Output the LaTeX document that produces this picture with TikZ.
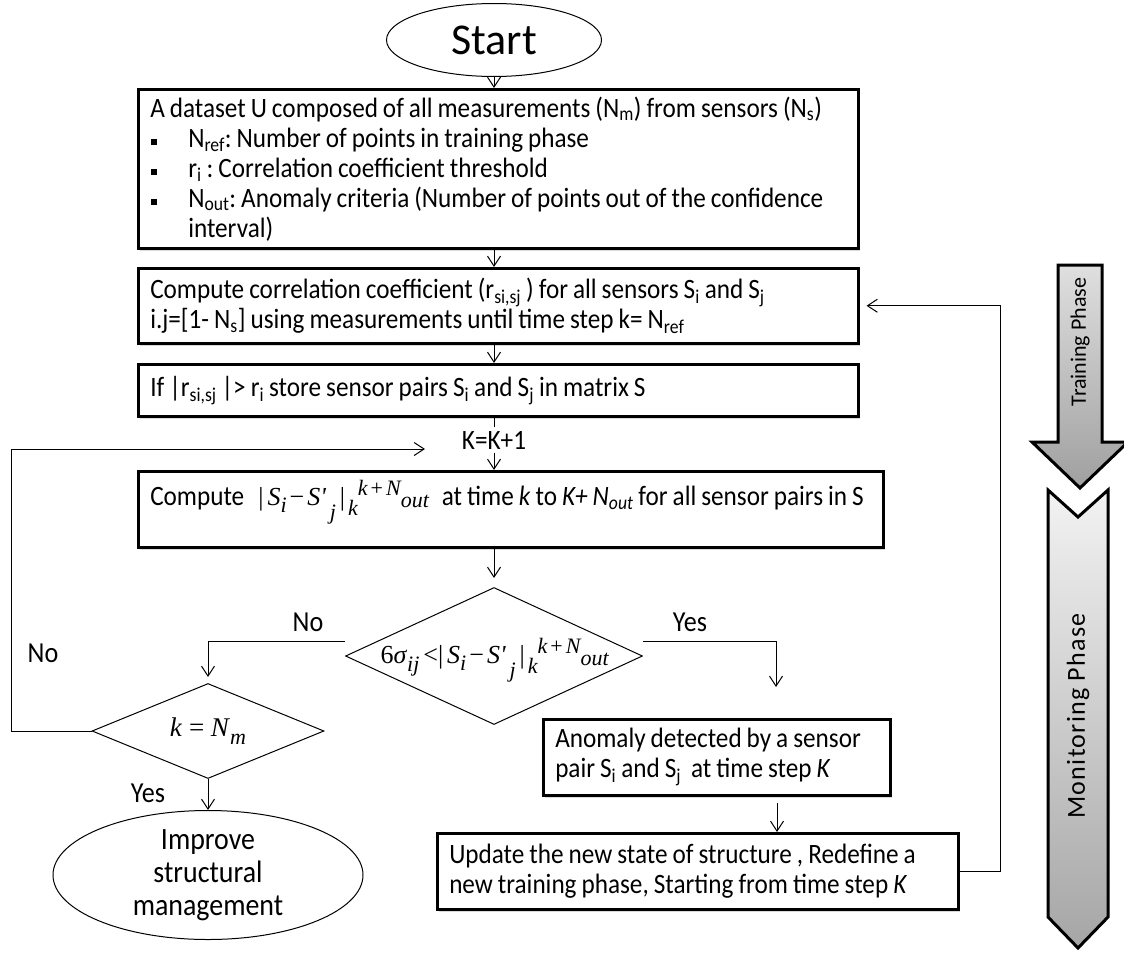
\documentclass[tikz,border=0pt]{standalone}
\usepackage{fontspec}
\setmainfont{Carlito}[FakeStretch=0.9]
\newfontfamily\plain{Carlito}
\newfontfamily\tms{Liberation Serif}
\usetikzlibrary{arrows.meta,shapes.geometric,shadows}

\newcommand{\bul}{\makebox[38pt][l]{\hspace*{1pt}\rule[2pt]{6pt}{6pt}}}
\newcommand{\lift}[2]{\raisebox{#1}{\fontsize{22}{22}\selectfont #2}}
\newcommand{\absdiff}{{\tms\itshape\fontsize{26}{26}\selectfont\upshape|\hspace{4pt}\itshape S\lift{-7pt}{i}\hspace{3pt}\upshape−\hspace{3pt}\itshape S'\hspace{4pt}\lift{-14pt}{j}\hspace{4pt}\upshape|\hspace{3pt}\itshape\lift{-10pt}{k}\lift{10pt}{k\hspace{3pt}\upshape+\hspace{3pt}\itshape N\lift{-12pt}{out}}}}

\begin{document}
\begin{tikzpicture}[x=1pt, y=-1pt, line width=1pt, >={Straight Barb[length=10pt,width=13pt]},
	every node/.style={font=\fontsize{28}{30}\selectfont},
	box/.style={draw, line width=2.5pt, fill=white, drop shadow={shadow xshift=2pt, shadow yshift=-3pt, opacity=0.3}, anchor=north west, inner xsep=12pt, align=left, execute at begin node={\spaceskip=5pt plus 1pt\xspaceskip=5pt plus 1pt\relax}},
	cond/.style={draw, diamond, inner sep=0pt},
	term/.style={draw, ellipse, inner sep=0pt, align=center},
	lbl/.style={font=\fontsize{29}{30}\selectfont},
	phase/.style={draw, line width=3pt, top color=gray!25, bottom color=gray!75}]
	\useasboundingbox (0,0) rectangle (1124,953);

	% main column
	\node[term, minimum width=215pt, minimum height=73pt, font=\plain\fontsize{44}{44}\selectfont] (start) at (494,40) {Start};
	\node[box, minimum width=720pt, minimum height=159pt, text width=696pt] (data) at (137,88) {A dataset U composed of all measurements (N\textsubscript{m}) from sensors (N\textsubscript{s})\\
		\bul N\textsubscript{ref}: Number of points in training phase\\
		\bul r\textsubscript{i} : Correlation coefficient threshold\\
		\bul N\textsubscript{out}: Anomaly criteria (Number of points out of the confidence\\
		\hspace*{38pt}interval)};
	\node[box, minimum width=720pt, minimum height=75pt, text width=696pt] (corr) at (137,267) {Compute correlation coefficient (r\textsubscript{si,sj} ) for all sensors S\textsubscript{i} and S\textsubscript{j}\\
		i.j=[1- N\textsubscript{s}] using measurements until time step k= N\textsubscript{ref}};
	\node[box, minimum width=720pt, minimum height=52pt, text width=696pt] (filt) at (137,363) {If |r\textsubscript{si,sj} |> r\textsubscript{i} store sensor pairs S\textsubscript{i} and S\textsubscript{j} in matrix S};
	\node (kinc) at (494,440) {K=K+1};
	\node[box, minimum width=745pt, text width=721pt, text height=24pt, text depth=32pt, inner ysep=10pt] (comp) at (137,470) {Compute\hspace{14pt}\absdiff\hspace{13pt}at time \textit{k} to \textit{K+ N\textsubscript{out}} for all sensor pairs in S};

	% decisions
	\node[cond, minimum width=297pt, minimum height=137pt] (test) at (494,656) {};
	\node[anchor=base west, inner sep=0pt] (testtxt) at (380,663) {{\tms\fontsize{26}{26}\selectfont 6\textit{σ}\lift{-8pt}{\textit{ij}}\hspace{4pt}<}\absdiff};
	\node[cond, minimum width=232pt, minimum height=95pt] (last) at (208,731) {};
	\node (lasttxt) at (208,731) {{\tms\fontsize{27}{27}\selectfont\textit{k} = \textit{N}\lift{-8pt}{\textit{m}}}};
	\node[term, minimum width=310pt, minimum height=105pt, font=\fontsize{31}{33}\selectfont] (impr) at (208,875) {Improve\\structural\\management};

	\node[box, minimum width=347pt, minimum height=76pt, text width=323pt] (anom) at (542,718) {Anomaly detected by a sensor\\
		pair S\textsubscript{i} and S\textsubscript{j}\ \ at time step \textit{K}};
	\node[box, minimum width=521pt, minimum height=76pt, text width=497pt] (upd) at (436,832) {Update the new state of structure , Redefine a\\
		new training phase, Starting from time step \textit{K}};

	\node[lbl] (no1) at (308,622) {No};
	\node[lbl] (no2) at (43,653) {No};
	\node[lbl] (yes1) at (690,622) {Yes};
	\node[lbl] (yes2) at (148,793) {Yes};

	\coordinate (nobend) at (207,641);
	\coordinate (yesbend) at (776,641);
	\coordinate (yesend) at (776,687);
	\coordinate (loopend) at (425,449);
	\coordinate (loopx) at (11,0);
	\coordinate (updx) at (777,0);
	\coordinate (retx) at (1000,0);

	% connectors
	\draw[->] (start.south) -- (start.south |- data.north);
	\draw[->] (data.south -| kinc) -- (corr.north -| kinc);
	\draw[->] (corr.south -| kinc) -- (filt.north -| kinc);
	\draw (filt.south -| kinc) -- (kinc);
	\draw[->] (kinc) -- (kinc |- comp.north);
	\draw[->, shorten >=9pt] (comp.south -| test.north) -- (test.north);
	\draw[->] (test.west |- nobend) -| ([yshift=6pt]last.north);
	\draw[->] (test.east |- yesbend) -| (yesend);
	\draw[->] (last.west) -- (last.west -| loopx) |- (loopend);
	\draw[->] (last) -- (impr);
	\draw[->] ([yshift=-6pt]anom.south -| updx) -- (upd.north -| updx);
	\draw[->] (upd.east) -| (retx |- corr.east) -- ([xshift=7pt]corr.east);

	% phase arrows
	\shadedraw[phase] (1058,265) -- (1102,265) -- (1102,442) -- (1128,442) -- (1080,488) -- (1032,442) -- (1058,442) -- cycle;
	\node[rotate=90, font=\plain\fontsize{22}{22}\selectfont] (train) at (1080,342) {Training Phase};
	\shadedraw[phase, top color=gray!10, bottom color=gray!70] (1048,490) -- (1078,517) -- (1108,490) -- (1108,917) -- (1078,948) -- (1048,917) -- cycle;
	\node[rotate=90, font=\plain\fontsize{26}{26}\selectfont\addfontfeature{LetterSpace=5}] (monit) at (1078,716) {Monitoring Phase};
\end{tikzpicture}
\end{document}
